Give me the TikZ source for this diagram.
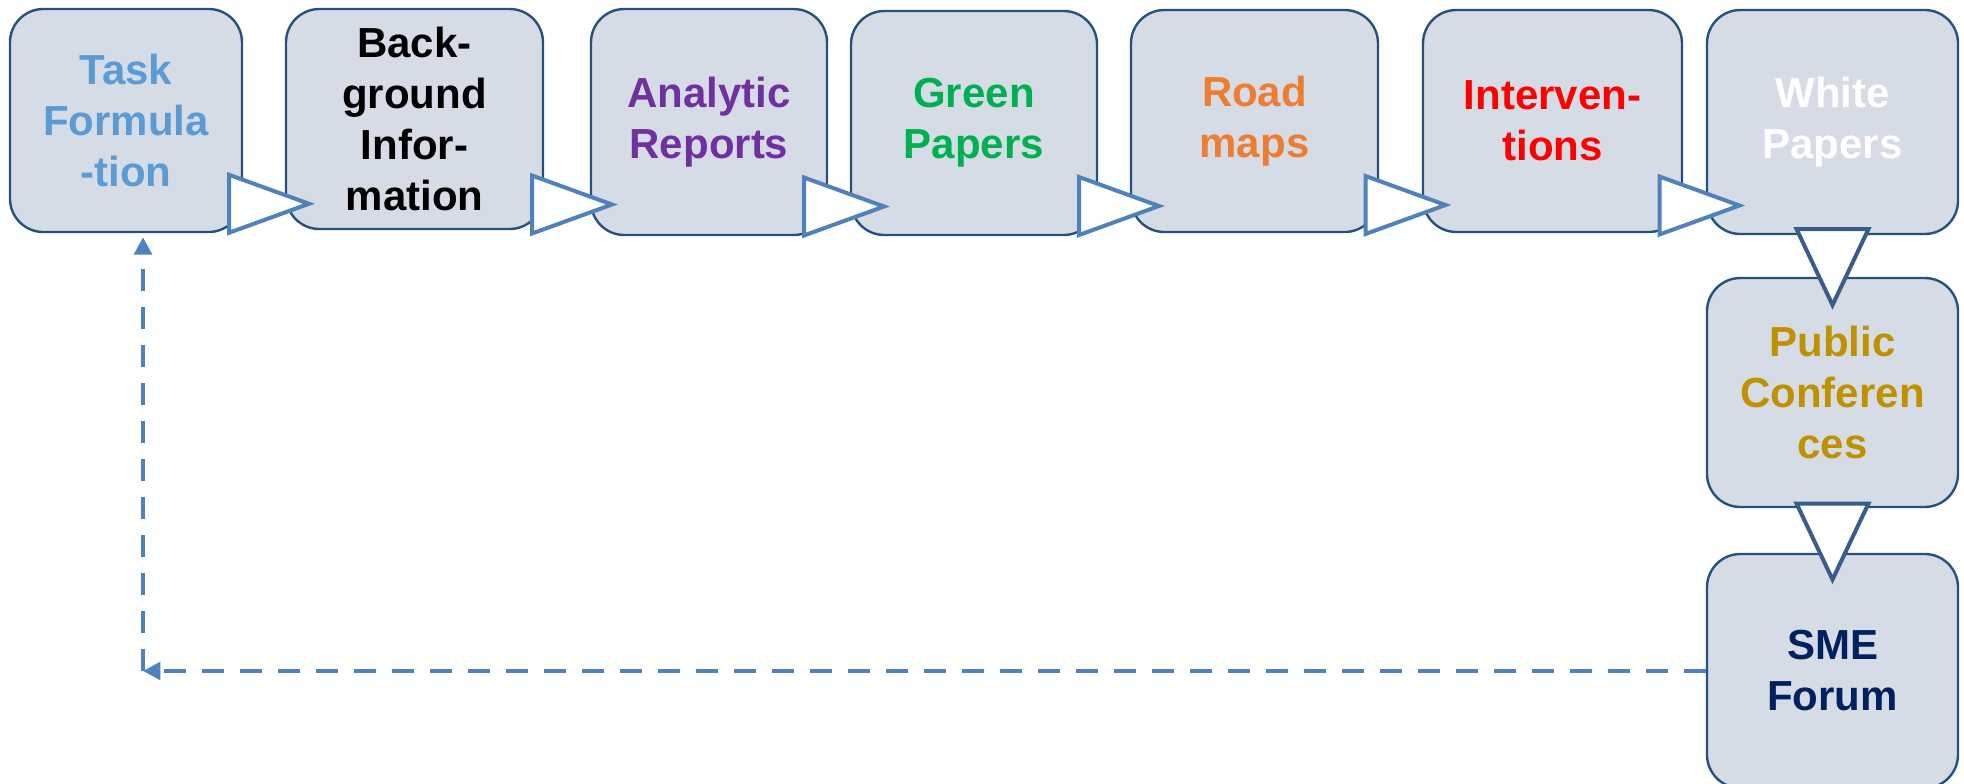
\documentclass[tikz,border=0pt]{standalone}
\usepackage{fontspec}
\setmainfont{Liberation Sans}
\usetikzlibrary{calc,arrows.meta}
\definecolor{boxfill}{HTML}{D6DCE5}
\definecolor{boxedge}{HTML}{26507E}
\definecolor{arrowblue}{HTML}{4F81BD}
\definecolor{arrowdark}{HTML}{385D8A}
\definecolor{taskblue}{HTML}{5B9BD5}
\definecolor{reportpurple}{HTML}{7030A0}
\definecolor{papergreen}{HTML}{00B050}
\definecolor{roadorange}{HTML}{ED7D31}
\definecolor{confgold}{HTML}{BF9000}
\definecolor{smenavy}{HTML}{002060}
\begin{document}
\begin{tikzpicture}[x=0.75pt,y=0.75pt,yscale=-1,xscale=1,
  stage/.style={draw=boxedge,fill=boxfill,line width=1.8pt,rounded corners=25pt,inner sep=0pt,align=center,
    font=\fontsize{31.5pt}{38.25pt}\selectfont\bfseries},
  rtri/.style={draw=arrowblue,fill=white,line width=3pt},
  dtri/.style={draw=arrowdark,fill=white,line width=3pt},
  backlink/.style={draw=arrowblue,line width=3.7pt,dash pattern=on 16.5pt off 12pt,-{Triangle[length=13pt,width=13pt]}}]
\useasboundingbox (0,0) rectangle (1964,783);
%Rounded Rect: top row
\node[stage,minimum width=174pt,minimum height=167.25pt,text=taskblue] (task) at (126,120.5) {Task\\Formula\\-tion};
\node[stage,minimum width=192.75pt,minimum height=165pt,text=black] (back) at (414.5,119) {Back-\\ground\\Infor-\\mation};
\node[stage,minimum width=177pt,minimum height=169.5pt,text=reportpurple] (anal) at (709,122) {Analytic\\Reports};
\node[stage,minimum width=184.5pt,minimum height=168pt,text=papergreen] (green) at (974,123) {Green\\Papers};
\node[stage,minimum width=185.25pt,minimum height=166.5pt,text=roadorange] (road) at (1254.5,121) {Road\\maps};
\node[stage,minimum width=194.25pt,minimum height=166.5pt,text=red] (interv) at (1552.5,121) {Interven-\\tions};
\node[stage,minimum width=188.25pt,minimum height=168pt,text=white] (white) at (1832.5,122) {White\\Papers};
%Rounded Rect: right column
\node[stage,minimum width=188.25pt,minimum height=171.75pt,text=confgold] (public) at (1832.5,392.5) {Public\\Conferen\\ces};
\node[stage,minimum width=188.25pt,minimum height=175.5pt,text=smenavy] (sme) at (1832.5,671) {SME\\Forum};
%Block Arrows
\foreach \a/\b in {task/back,back/anal,anal/green,green/road,road/interv,interv/white}
  \draw[rtri] ($(\a.east)!.5!(\b.west)$) ++(-35,55) -- ++(0,58) -- ++(80,-29) -- cycle;
\foreach \a/\b in {white/public,public/sme}
  \draw[dtri] ($(\a.south)!.5!(\b.north)$) ++(-36,-27) -- ++(72,0) -- ++(-36,76) -- cycle;
%Dashed feedback
\coordinate (bend) at ($(task.south |- sme.west)+(17,0)$);
\draw[backlink] (sme.west) -- (bend);
\draw[backlink] (bend) -- ($(task.south -| bend)+(0,4)$);
\end{tikzpicture}
\end{document}
